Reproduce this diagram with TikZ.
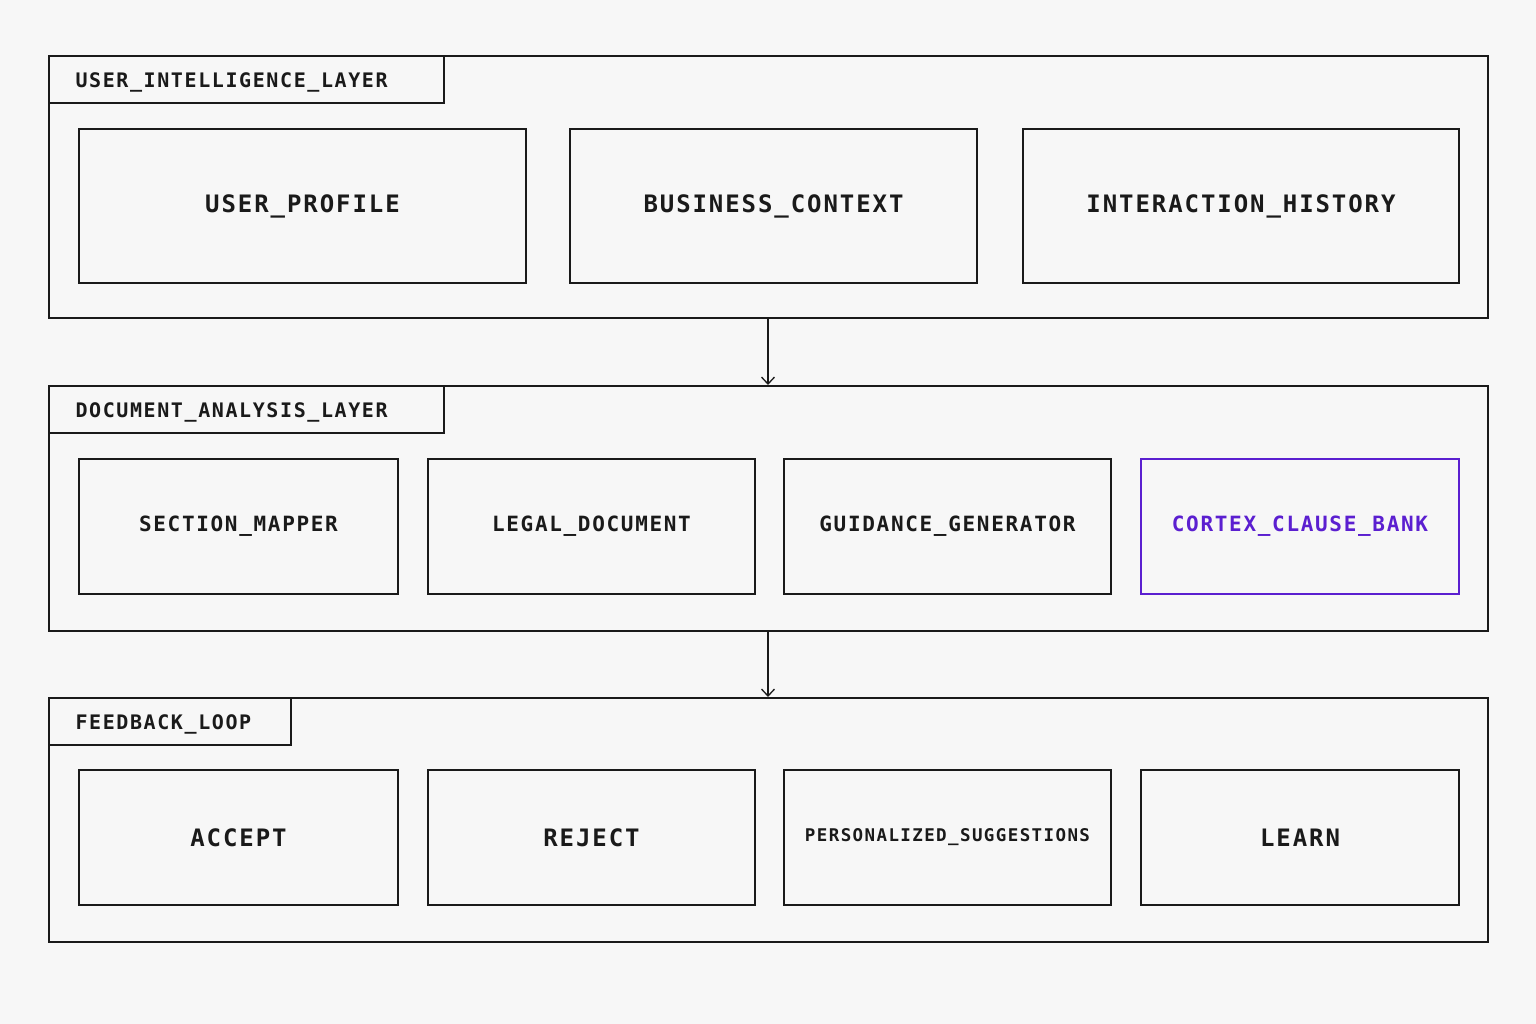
\documentclass[tikz,border=0pt]{standalone}
\usepackage{fontspec}
\newfontfamily\mono[LetterSpace=8]{DejaVu Sans Mono}
\usetikzlibrary{arrows.meta}
\definecolor{bg}{HTML}{F7F7F7}
\definecolor{ln}{HTML}{1A1A1A}
\definecolor{pur}{HTML}{5B1FD0}
\begin{document}
\begin{tikzpicture}[x=1pt,y=-1pt,
  layer/.style={draw=ln,line width=1.5pt},
  box/.style={draw=ln,line width=1.5pt},
  tab/.style={anchor=west,font=\mono\bfseries\fontsize{20}{20}\selectfont,text=ln},
  lab/.style={font=\mono\bfseries\fontsize{24}{24}\selectfont,text=ln},
  labs/.style={font=\mono\bfseries\fontsize{21}{21}\selectfont,text=ln},
  arr/.style={draw=ln,line width=1.3pt,-{Straight Barb[length=7pt,width=13pt]}}]
\fill[bg] (0,0) rectangle (1536,1024);
\useasboundingbox (0,0) rectangle (1536,1024);
% layer 1
\draw[layer] (49,56) rectangle (1488,318);
\draw[layer] (49,56) rectangle (444,103);
\node[tab] (t1) at (72,82) {USER\_INTELLIGENCE\_LAYER};
\draw[box] (79,129) rectangle node[lab] (up) {USER\_PROFILE} (526,283);
\draw[box] (570,129) rectangle node[lab] (bc) {BUSINESS\_CONTEXT} (977,283);
\draw[box] (1023,129) rectangle node[lab] (ih) {INTERACTION\_HISTORY} (1459,283);
% layer 2
\draw[layer] (49,386) rectangle (1488,631);
\draw[layer] (49,386) rectangle (444,433);
\node[tab] (t2) at (72,412) {DOCUMENT\_ANALYSIS\_LAYER};
\draw[box] (79,459) rectangle node[labs] (sm) {SECTION\_MAPPER} (398,594);
\draw[box] (428,459) rectangle node[labs] (ld) {LEGAL\_DOCUMENT} (755,594);
\draw[box] (784,459) rectangle node[labs] (gg) {GUIDANCE\_GENERATOR} (1111,594);
\draw[draw=pur,line width=1.5pt] (1141,459) rectangle node[labs,text=pur] (cb) {CORTEX\_CLAUSE\_BANK} (1459,594);
% layer 3
\draw[layer] (49,698) rectangle (1488,942);
\draw[layer] (49,698) rectangle (291,745);
\node[tab] (t3) at (72,724) {FEEDBACK\_LOOP};
\draw[box] (79,770) rectangle node[lab] (ac) {ACCEPT} (398,905);
\draw[box] (428,770) rectangle node[lab] (rj) {REJECT} (755,905);
\draw[box] (784,770) rectangle node[font=\mono\bfseries\fontsize{17.5}{17.5}\selectfont,text=ln] (ps) {PERSONALIZED\_SUGGESTIONS} (1111,905);
\draw[box] (1141,770) rectangle node[lab] (le) {LEARN} (1459,905);
% arrows
\coordinate (a1) at (768,318); \coordinate (b1) at (768,385);
\coordinate (a2) at (768,631); \coordinate (b2) at (768,697);
\draw[arr] (a1) -- (b1);
\draw[arr] (a2) -- (b2);
\end{tikzpicture}
\end{document}
